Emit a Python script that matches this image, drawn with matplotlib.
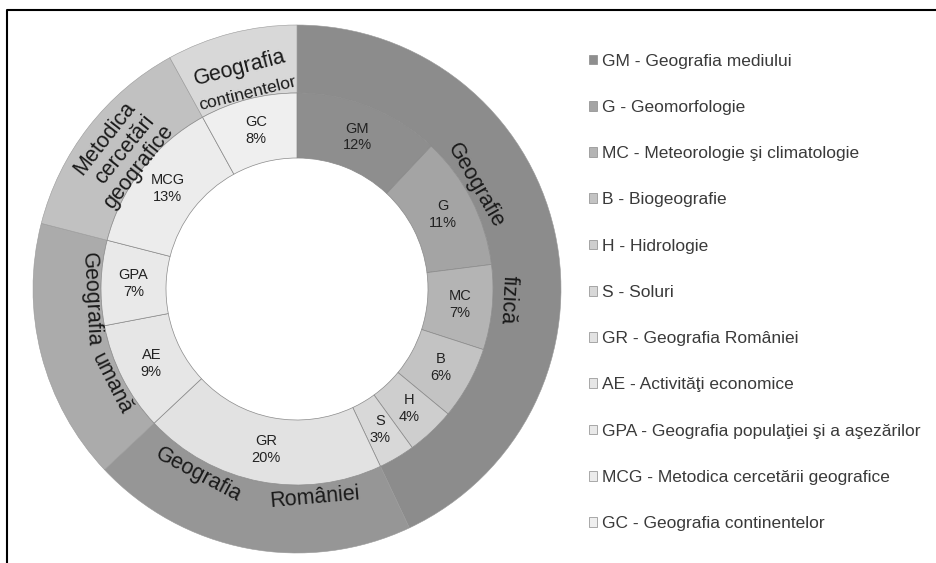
import matplotlib
matplotlib.use('Agg')
import matplotlib.pyplot as plt
import numpy as np

plt.rcParams['font.family'] = ['Liberation Sans', 'DejaVu Sans']

# inner ring - disciplines (%)
codes = ['GM', 'G', 'MC', 'B', 'H', 'S', 'GR', 'AE', 'GPA', 'MCG', 'GC']
shares = [12, 11, 7, 6, 4, 3, 20, 9, 7, 13, 8]
names = ['GM - Geografia mediului',
         'G - Geomorfologie',
         'MC - Meteorologie şi climatologie',
         'B - Biogeografie',
         'H - Hidrologie',
         'S - Soluri',
         'GR - Geografia României',
         'AE - Activităţi economice',
         'GPA - Geografia populaţiei şi a aşezărilor',
         'MCG - Metodica cercetării geografice',
         'GC - Geografia continentelor']
inner_colors = ['#8e8e8e', '#a4a4a4', '#b4b4b4', '#c3c3c3', '#cecece', '#d8d8d8',
                '#e2e2e2', '#e6e6e6', '#e9e9e9', '#ececec', '#efefef']

# outer ring - groups of disciplines
groups = ['Geografie fizică', 'Geografia României', 'Geografia umană',
          'Metodica cercetări geografice', 'Geografia continentelor']
group_of = [0, 0, 0, 0, 0, 0, 1, 2, 2, 3, 4]
outer_colors = ['#8c8c8c', '#969696', '#ababab', '#c1c1c1', '#d8d8d8']
group_shares = [sum(v for v, g in zip(shares, group_of) if g == i) for i in range(len(groups))]

fig = plt.figure(figsize=(9.37, 5.63), dpi=100)
ax = fig.add_axes([0, 0, 1, 1])

cx, cy = 297, 274
r_out, r_mid, r_hole = 264, 196, 131

outer, _ = ax.pie(group_shares, radius=r_out, center=(cx, cy), startangle=90,
                  counterclock=False, colors=outer_colors,
                  wedgeprops=dict(width=r_out - r_mid, edgecolor='#999999', linewidth=0.4))
inner, _ = ax.pie(shares, radius=r_mid, center=(cx, cy), startangle=90,
                  counterclock=False, colors=inner_colors,
                  wedgeprops=dict(width=r_mid - r_hole, edgecolor='#8a8a8a', linewidth=0.5))

ax.set_xlim(0, 937)
ax.set_ylim(0, 563)
ax.set_aspect('equal')
ax.axis('off')

# labels of the inner ring
r_lab = (r_mid + r_hole) / 2
for w, c, v in zip(inner, codes, shares):
    a = np.deg2rad((w.theta1 + w.theta2) / 2)
    ax.text(cx + r_lab * np.cos(a), cy + r_lab * np.sin(a), '%s\n%d%%' % (c, v),
            ha='center', va='center', fontsize=10.5, color='#222222', linespacing=1.25)

# words of the outer ring, laid along the arc (angle, radius, rotation)
outer_words = [
    ('Geografie', 30, 206, -60, 15.5),
    ('fizică', -3, 211, -93, 15.5),
    ('Geografia', -118, 211, -28, 15.5),
    ('României', -85, 209, 5, 15.5),
    ('Geografia', 183, 206, -87, 15.5),
    ('umană', 207, 208, -63, 15.5),
    ('Metodica', 142, 244, 52, 15.5),
    ('cercetări', 141, 222, 51, 15.5),
    ('geografice', 142.5, 200, 52, 15.5),
    ('Geografia', 104.5, 228, 14.5, 15.5),
]
for txt, ang, r, rot, fs in outer_words:
    a = np.deg2rad(ang)
    ax.text(cx + r * np.cos(a), cy + r * np.sin(a), txt, ha='center', va='center',
            rotation=rot, rotation_mode='anchor', fontsize=fs, color='#1a1a1a')
a = np.deg2rad(104.3)
ax.text(cx + 202 * np.cos(a), cy + 202 * np.sin(a), 'continentelor', ha='center', va='center',
        rotation=14, rotation_mode='anchor', fontsize=12.5, color='#1a1a1a',
        family=['Liberation Sans Narrow', 'Liberation Sans'])

# frame lines
ax.plot([7.5, 7.5, 937], [0, 553, 553], color='black', lw=1.5, solid_capstyle='butt')

ax.legend(inner, names, loc='upper left', bbox_to_anchor=(580, 563 - 45),
          bbox_transform=ax.transData, frameon=False, fontsize=12.5,
          labelspacing=1.8, handlelength=0.5, handleheight=0.5,
          handletextpad=0.25, labelcolor='#3a3a3a', borderpad=0)

fig.savefig('out.png', dpi=100)
